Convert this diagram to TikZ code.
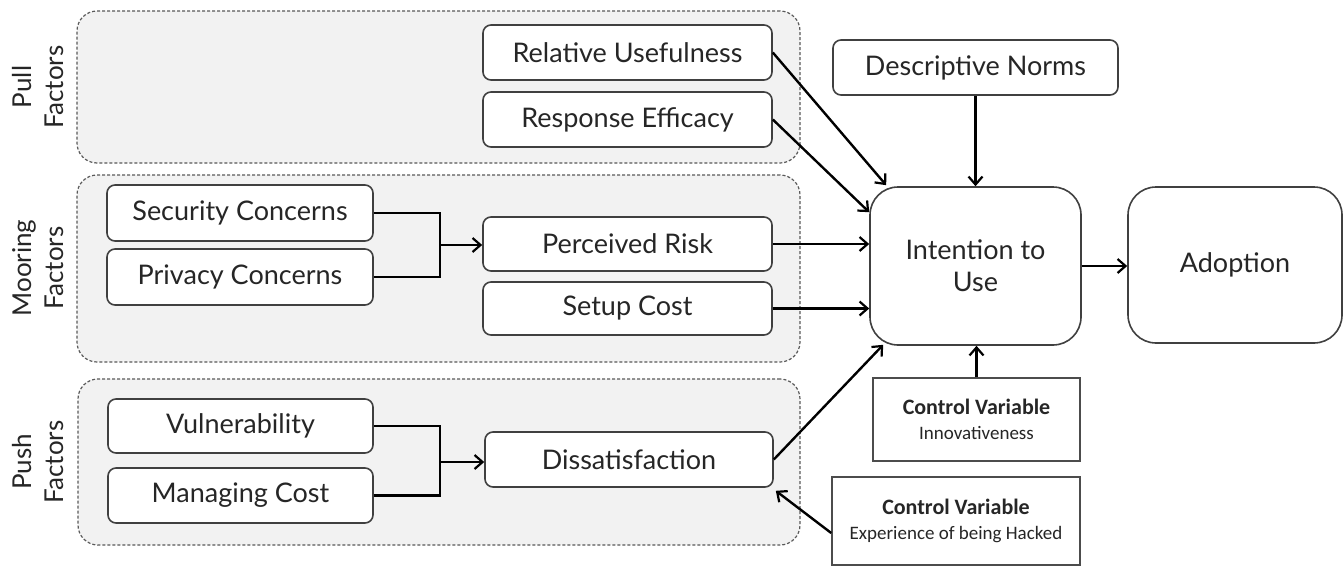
\documentclass[tikz,border=0pt]{standalone}
\usepackage{fontspec}
\setmainfont{Lato}
\newfontfamily\carlito{Carlito}
\usetikzlibrary{arrows.meta}
\begin{document}
\begin{tikzpicture}[x=1pt,y=-1pt,
  grp/.style={draw=black!65, dash pattern=on 3pt off 2pt, fill=black!5, rounded corners=20pt, line width=1.2pt, inner sep=0},
  box/.style={draw=black!75, fill=white, rounded corners=8pt, line width=1.6pt, font=\fontsize{27}{32}\selectfont, inner sep=0, text=black!85},
  cv/.style={draw=black!70, fill=white, line width=1.6pt, inner sep=0, align=center, text=black!85, font=\carlito\fontsize{22}{25}\selectfont},
  glabel/.style={rotate=90, align=center, font=\fontsize{26}{32}\selectfont, text=black!85},
  arr/.style={-{Straight Barb[length=8pt,width=14pt,line width=2.2pt]}, line width=2.4pt},
  ln/.style={line width=2.4pt}]
\useasboundingbox (0,0) rectangle (1344,568);
% groups
\node[grp, minimum width=723pt, minimum height=152pt] (pullg) at (438.5,87) {};
\node[grp, minimum width=723pt, minimum height=187pt] (moorg) at (438.5,268.5) {};
\node[grp, minimum width=722pt, minimum height=166pt] (pushg) at (439,462) {};
\node[glabel] (pulll) at (38,87) {Pull\\Factors};
\node[glabel] (moorl) at (38,268) {Mooring\\Factors};
\node[glabel] (pushl) at (38,462) {Push\\Factors};
% boxes
\node[box, minimum width=289pt, minimum height=55pt] (ru) at (627.5,52.5) {Relative Usefulness};
\node[box, minimum width=289pt, minimum height=55pt] (re) at (627.5,119.5) {Response Efficacy};
\node[box, minimum width=266pt, minimum height=56pt] (sec) at (240,213) {Security Concerns};
\node[box, minimum width=266pt, minimum height=56pt] (prv) at (240,277) {Privacy Concerns};
\node[box, minimum width=289pt, minimum height=54pt] (pr) at (627.5,244) {Perceived Risk};
\node[box, minimum width=289pt, minimum height=53pt] (sc) at (627.5,308.5) {Setup Cost};
\node[box, minimum width=265pt, minimum height=54pt] (vu) at (240.5,426) {Vulnerability};
\node[box, minimum width=265pt, minimum height=55pt] (mc) at (240.5,495.5) {Managing Cost};
\node[box, minimum width=288pt, minimum height=55pt] (ds) at (629,459.5) {Dissatisfaction};
\node[box, minimum width=285pt, minimum height=55pt] (dn) at (975.5,67.5) {Descriptive Norms};
\node[box, rounded corners=28pt, minimum width=211pt, minimum height=158pt, align=center] (int) at (975.5,266) {Intention to\\Use};
\node[box, rounded corners=28pt, minimum width=214pt, minimum height=156pt] (ad) at (1235,265) {Adoption};
\node[cv, minimum width=207pt, minimum height=83pt] (iv) at (976.5,419.5) {{\bfseries Control Variable}\\{\fontsize{19}{23}\selectfont Innovativeness}};
\node[cv, minimum width=248pt, minimum height=88pt] (ex) at (956,521) {{\bfseries Control Variable}\\{\fontsize{19}{23}\selectfont Experience of being Hacked}};
% brackets
\coordinate (j1) at (440,245);
\coordinate (j2) at (440,462);
\draw[ln] (sec.east) -| (j1);
\draw[ln] (prv.east) -| (j1);
\draw[arr] (j1) -- (j1 -| pr.west);
\draw[ln] (vu.east) -| (j2);
\draw[ln] (mc.east) -| (j2);
\draw[arr] (j2) -- (j2 -| ds.west);
% arrows to intention
\draw[arr] (ru.east) -- ([xshift=17pt,yshift=1pt]int.north west);
\draw[arr] (re.east) -- ([yshift=-26pt]int.north west);
\draw[arr] (pr.east) -- (pr.east -| int.west);
\draw[arr] (sc.east) -- (sc.east -| int.west);
\draw[arr] (ds.east) -- ([xshift=14pt,yshift=1pt]int.south west);
\draw[arr] (dn.south) -- (int.north);
\draw[arr] (iv.north) -- (iv.north |- int.south);
\draw[arr] (int.east) -- (int.east -| ad.west);
\draw[arr] ([yshift=-12pt]ex.west) -- ([xshift=2pt,yshift=-3pt]ds.south east);
\end{tikzpicture}
\end{document}
